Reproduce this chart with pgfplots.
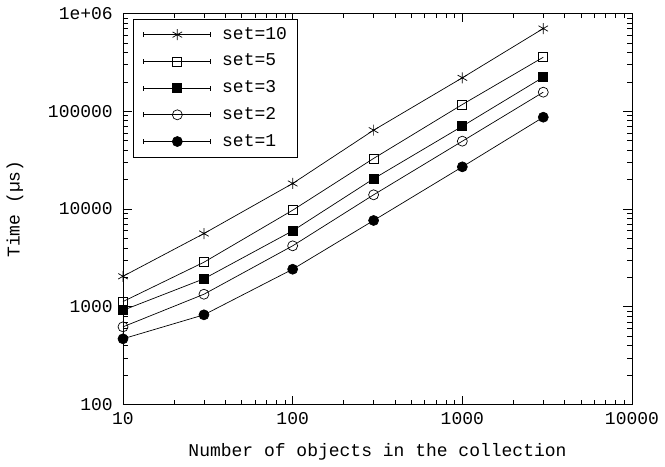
\documentclass[border=0pt]{standalone}
\usepackage{fontspec}
\setmainfont{Liberation Mono}
\usepackage{pgfplots}
\pgfplotsset{compat=1.18}
\begin{document}
\fontsize{18}{21}\selectfont
\begin{tikzpicture}
\begin{axis}[
  scale only axis, width=509pt, height=391pt,
  xmode=log, ymode=log,
  xmin=10, xmax=10000, ymin=100, ymax=1000000,
  xtick={10,100,1000,10000}, xticklabels={10,100,1000,10000},
  ytick={100,1000,10000,100000,1000000},
  yticklabels={100,1000,10000,100000,1e+06},
  tick align=inside, major tick length=9pt, minor tick length=5pt,
  tick style={black, line width=0.6pt},
  axis line style={line width=0.8pt},
  xlabel={Number of objects in the collection},
  ylabel={Time (µs)},
  every axis x label/.style={at={(axis description cs:0.5,0)}, anchor=center, yshift=-47.5pt},
  every axis y label/.style={at={(axis description cs:-0.2122,0.5)}, rotate=90, anchor=center},
  every tick label/.append style={font=\fontsize{18}{21}\selectfont},
  label style={font=\fontsize{18}{21}\selectfont},
  yticklabel style={xshift=-4pt},
  xticklabel style={yshift=-2pt},
  legend cell align=left,
  legend style={at={(0.02,0.986)}, anchor=north west, draw=black, line width=0.6pt,
    font=\fontsize{18}{21}\selectfont, row sep=12pt, column sep=11pt, inner xsep=10pt, inner ysep=8pt,
    nodes={inner sep=0pt}},
  legend image code/.code={
    \draw[mark repeat=2, mark phase=2, #1] plot coordinates {(0pt,0pt)(33.5pt,0pt)(67pt,0pt)};
    \draw[#1, mark=none, solid] (0pt,-2.5pt)--(0pt,2.5pt) (67pt,-2.5pt)--(67pt,2.5pt);
  },
]
\coordinate (sw) at (rel axis cs:0,0);
\coordinate (ne) at (rel axis cs:1,1);
\addplot[black, line width=0.7pt, mark=asterisk, mark size=5.5pt, mark options={solid, line width=0.7pt}] coordinates {
 (10,2050) (30,5610) (100,18240) (300,64000) (1000,219800) (3000,702000)};
\addlegendentry{set=10}
\addplot[black, line width=0.7pt, mark=square, mark size=4.5pt, mark options={solid, line width=0.7pt}] coordinates {
 (10,1130) (30,2855) (100,9720) (300,32900) (1000,117200) (3000,357000)};
\addlegendentry{set=5}
\addplot[black, line width=0.7pt, mark=square*, mark size=4.5pt, mark options={solid, fill=black}] coordinates {
 (10,920) (30,1932) (100,5980) (300,20400) (1000,70300) (3000,223000)};
\addlegendentry{set=3}
\addplot[black, line width=0.7pt, mark=o, mark size=5pt, mark options={solid, line width=0.7pt}] coordinates {
 (10,623) (30,1343) (100,4200) (300,13970) (1000,49400) (3000,156700)};
\addlegendentry{set=2}
\addplot[black, line width=0.7pt, mark=*, mark size=5pt, mark options={solid, fill=black}] coordinates {
 (10,470) (30,827) (100,2420) (300,7630) (1000,27000) (3000,86900)};
\addlegendentry{set=1}
\end{axis}
\path ([xshift=-123pt,yshift=-58.5pt]sw) rectangle ([xshift=33pt,yshift=13.5pt]ne);
\end{tikzpicture}
\end{document}
